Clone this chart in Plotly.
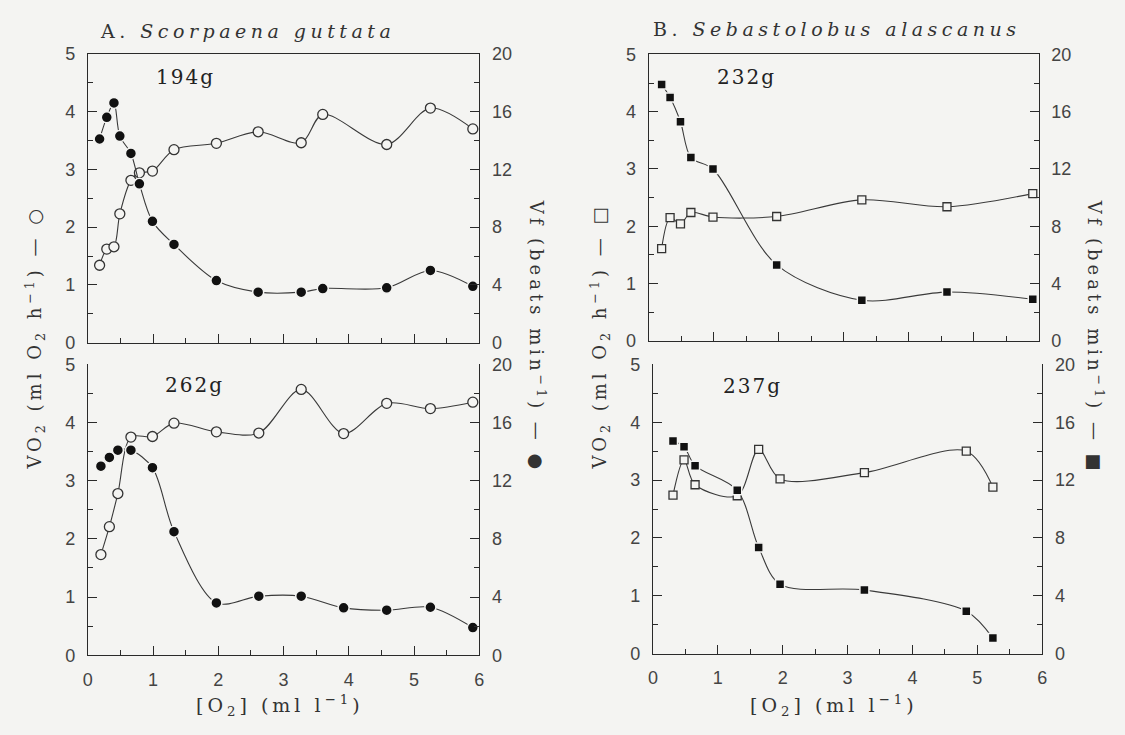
import plotly.graph_objects as go

# ---------------- data ----------------
# Panel A (Scorpaena guttata), 194 g
A_top_o2 = [0.18, 0.29, 0.40, 0.49, 0.66, 0.79, 0.99, 1.32, 1.97, 2.61, 3.27, 3.60, 4.58, 5.25, 5.90]
A_top_vo2 = [1.34, 1.62, 1.66, 2.23, 2.81, 2.94, 2.97, 3.34, 3.45, 3.65, 3.46, 3.95, 3.43, 4.06, 3.70]
A_top_vf = [14.1, 15.6, 16.6, 14.3, 13.1, 11.0, 8.4, 6.8, 4.3, 3.5, 3.5, 3.75, 3.8, 5.0, 3.9]

# Panel A, 262 g
A_bot_o2 = [0.20, 0.33, 0.46, 0.66, 0.99, 1.32, 1.97, 2.62, 3.27, 3.92, 4.58, 5.25, 5.90]
A_bot_vo2 = [1.73, 2.21, 2.78, 3.75, 3.76, 3.99, 3.84, 3.82, 4.57, 3.81, 4.33, 4.24, 4.35]
A_bot_vf = [13.0, 13.6, 14.1, 14.1, 12.9, 8.5, 3.6, 4.06, 4.06, 3.26, 3.1, 3.3, 1.9]

# Panel B (Sebastolobus alascanus), 232 g
B_top_o2 = [0.20, 0.33, 0.49, 0.65, 0.99, 1.97, 3.28, 4.59, 5.91]
B_top_vo2 = [1.61, 2.15, 2.04, 2.24, 2.16, 2.17, 2.46, 2.34, 2.57]
B_top_vf = [17.9, 17.0, 15.3, 12.8, 12.0, 5.3, 2.83, 3.4, 2.9]

# Panel B, 237 g
B_bot_o2 = [0.31, 0.48, 0.65, 1.30, 1.63, 1.96, 3.26, 4.83, 5.24]
B_bot_vo2 = [2.74, 3.35, 2.92, 2.73, 3.53, 3.02, 3.13, 3.50, 2.88]
B_bot_vf = [14.7, 14.3, 13.0, 11.3, 7.35, 4.8, 4.4, 2.94, 1.08]

panel_titles = ["A. <i>Scorpaena guttata</i>", "B. <i>Sebastolobus alascanus</i>"]
mass_labels = ["194g", "262g", "232g", "237g"]
x_title = "[O<sub>2</sub>] (ml l<sup>−1</sup>)"
left_titles = ["VO<sub>2</sub> (ml O<sub>2</sub> h<sup>−1</sup>) — ○",
               "VO<sub>2</sub> (ml O<sub>2</sub> h<sup>−1</sup>) — □"]
right_titles = ["Vf (beats min<sup>−1</sup>) — ●",
                "Vf (beats min<sup>−1</sup>) — ■"]

# ---------------- style ----------------
BG = "#f4f4f2"
INK = "#2a2a2a"
LINE = "#3a3a3a"
TICKFONT = dict(family="Liberation Sans", size=18, color="#444444")
SERIF = "DejaVu Serif"

W, H = 1125, 735


def px_x(p):
    return p / W


def px_y(p):
    return 1 - p / H


def spaced(txt, ls):
    return f'<span style="letter-spacing:{ls}px">{txt}</span>'


# plot rectangles in pixel coordinates: (x0, x1, ytop, ybottom)
rects = [
    (83.6, 478.6, 45.0, 342.0),     # A top
    (83.6, 478.6, 364.3, 663.3),    # A bottom
    (649.4, 1042.9, 45.7, 340.0),   # B top
    (653.7, 1046.5, 364.3, 661.7),  # B bottom
]

panels = [
    (A_top_o2, A_top_vo2, A_top_vf, "circle"),
    (A_bot_o2, A_bot_vo2, A_bot_vf, "circle"),
    (B_top_o2, B_top_vo2, B_top_vf, "square"),
    (B_bot_o2, B_bot_vo2, B_bot_vf, "square"),
]

fig = go.Figure()
layout = {}

for i, ((o2, vo2, vf, sym), rect) in enumerate(zip(panels, rects)):
    xn = i + 1
    yl = 2 * i + 1
    yr = 2 * i + 2
    xname = "x" if xn == 1 else f"x{xn}"
    ylname = "y" if yl == 1 else f"y{yl}"
    yrname = f"y{yr}"
    is_top = i in (0, 2)
    msize = 10 if sym == "circle" else 8

    # heart rate (filled markers, right axis)
    fig.add_trace(go.Scatter(
        x=o2, y=vf, xaxis=xname, yaxis=yrname, mode="lines+markers",
        line=dict(color=LINE, width=1.1, shape="spline", smoothing=0.9),
        marker=dict(symbol=sym, size=msize + 1, color="#111111",
                    line=dict(color=BG, width=1.5)),
        cliponaxis=False, showlegend=False, hoverinfo="skip"))
    # oxygen consumption (open markers, left axis)
    fig.add_trace(go.Scatter(
        x=o2, y=vo2, xaxis=xname, yaxis=ylname, mode="lines+markers",
        line=dict(color=LINE, width=1.1, shape="spline", smoothing=0.9),
        marker=dict(symbol=sym, size=msize, color=BG,
                    line=dict(color="#333333", width=1.3)),
        cliponaxis=False, showlegend=False, hoverinfo="skip"))

    x0, x1, yt, yb = rect
    xdom = [px_x(x0), px_x(x1)]
    ydom = [px_y(yb), px_y(yt)]

    axis_common = dict(showgrid=False, zeroline=False, showline=True,
                       linecolor=INK, linewidth=1.2, ticks="inside",
                       tickcolor=INK, tickwidth=1.1, ticklen=9,
                       tickfont=TICKFONT, ticklabelstandoff=8)

    layout["xaxis" if xn == 1 else f"xaxis{xn}"] = dict(
        axis_common, domain=xdom, anchor=ylname, range=[0, 6],
        tickmode="linear", tick0=0, dtick=1,
        minor=dict(dtick=0.5, ticks="inside", ticklen=5, tickcolor=INK, tickwidth=1.1),
        showticklabels=not is_top, mirror=is_top)
    layout["yaxis" if yl == 1 else f"yaxis{yl}"] = dict(
        axis_common, domain=ydom, anchor=xname, range=[0, 5],
        tickmode="linear", tick0=0, dtick=1, side="left",
        minor=dict(dtick=0.5, ticks="inside", ticklen=5, tickcolor=INK, tickwidth=1.1))
    layout[f"yaxis{yr}"] = dict(
        axis_common, anchor=xname, overlaying=ylname, range=[0, 20],
        tickmode="linear", tick0=0, dtick=4, side="right",
        minor=dict(dtick=2, ticks="inside", ticklen=5, tickcolor=INK, tickwidth=1.1))

annotations = []
# panel titles
annotations.append(dict(text=spaced(panel_titles[0], 4.5), x=px_x(245), y=px_y(22), xref="paper", yref="paper",
                        showarrow=False, xanchor="center", yanchor="middle",
                        font=dict(family=SERIF, size=19, color="#333333")))
annotations.append(dict(text=spaced(panel_titles[1], 4.5), x=px_x(839), y=px_y(20), xref="paper", yref="paper",
                        showarrow=False, xanchor="center", yanchor="middle",
                        font=dict(family=SERIF, size=19, color="#333333")))

# mass labels (data coordinates)
mass_pos = [(1.49, 4.60), (1.63, 4.65), (1.50, 4.61), (1.53, 4.62)]
for i, (lab, (mx, my)) in enumerate(zip(mass_labels, mass_pos)):
    xn = i + 1
    yl = 2 * i + 1
    annotations.append(dict(text=spaced(lab, 2), x=mx, y=my,
                            xref="x" if xn == 1 else f"x{xn}",
                            yref="y" if yl == 1 else f"y{yl}",
                            showarrow=False, xanchor="center", yanchor="middle",
                            font=dict(family=SERIF, size=20, color="#222222")))

# x-axis titles
for cx in (277, 836):
    annotations.append(dict(text=spaced(x_title, 4), x=px_x(cx), y=px_y(715), xref="paper", yref="paper",
                            showarrow=False, xanchor="center", yanchor="middle",
                            font=dict(family=SERIF, size=19, color="#333333")))

# y-axis titles
for cx, txt in ((30, left_titles[0]), (600, left_titles[1])):
    annotations.append(dict(text=spaced(txt, 4), x=px_x(cx), y=px_y(336), xref="paper", yref="paper",
                            showarrow=False, xanchor="center", yanchor="middle", textangle=-90,
                            font=dict(family=SERIF, size=18, color="#333333")))
for cx, txt in ((537, right_titles[0]), (1100, right_titles[1])):
    annotations.append(dict(text=spaced(txt, 4), x=px_x(cx), y=px_y(336), xref="paper", yref="paper",
                            showarrow=False, xanchor="center", yanchor="middle", textangle=90,
                            font=dict(family=SERIF, size=18, color="#333333")))

fig.update_layout(
    width=W, height=H, margin=dict(l=0, r=0, t=0, b=0),
    paper_bgcolor=BG, plot_bgcolor=BG, showlegend=False,
    annotations=annotations, **layout)

fig.write_html("out.html", config={"displayModeBar": False},
               post_script="document.body.style.margin='0';document.body.style.overflow='hidden';")
